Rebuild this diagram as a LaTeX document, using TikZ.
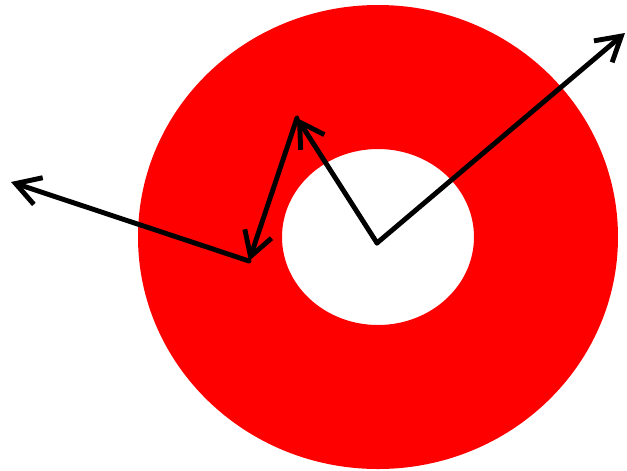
\documentclass[tikz,border=0pt]{standalone}
\usetikzlibrary{arrows.meta}
\begin{document}
\begin{tikzpicture}[x=0.025cm,y=-0.025cm,
  vec/.style={line width=3.5pt,line cap=round,-{Straight Barb[length=17pt,width=20pt,line width=3.5pt]}}]
\useasboundingbox (0,0) rectangle (627,470);
\fill[red,even odd rule] (378,237) ellipse [x radius=240,y radius=232]
  (378,237) ellipse [x radius=96,y radius=88];
\coordinate (o) at (377,243);
\coordinate (a) at (297,118);
\coordinate (b) at (249,261);
\coordinate (c) at (11,182);
\coordinate (d) at (625,33);
\draw[vec] (o) -- (a);
\draw[vec] (a) -- (b);
\draw[vec] (b) -- (c);
\draw[vec] (o) -- (d);
\end{tikzpicture}
\end{document}
